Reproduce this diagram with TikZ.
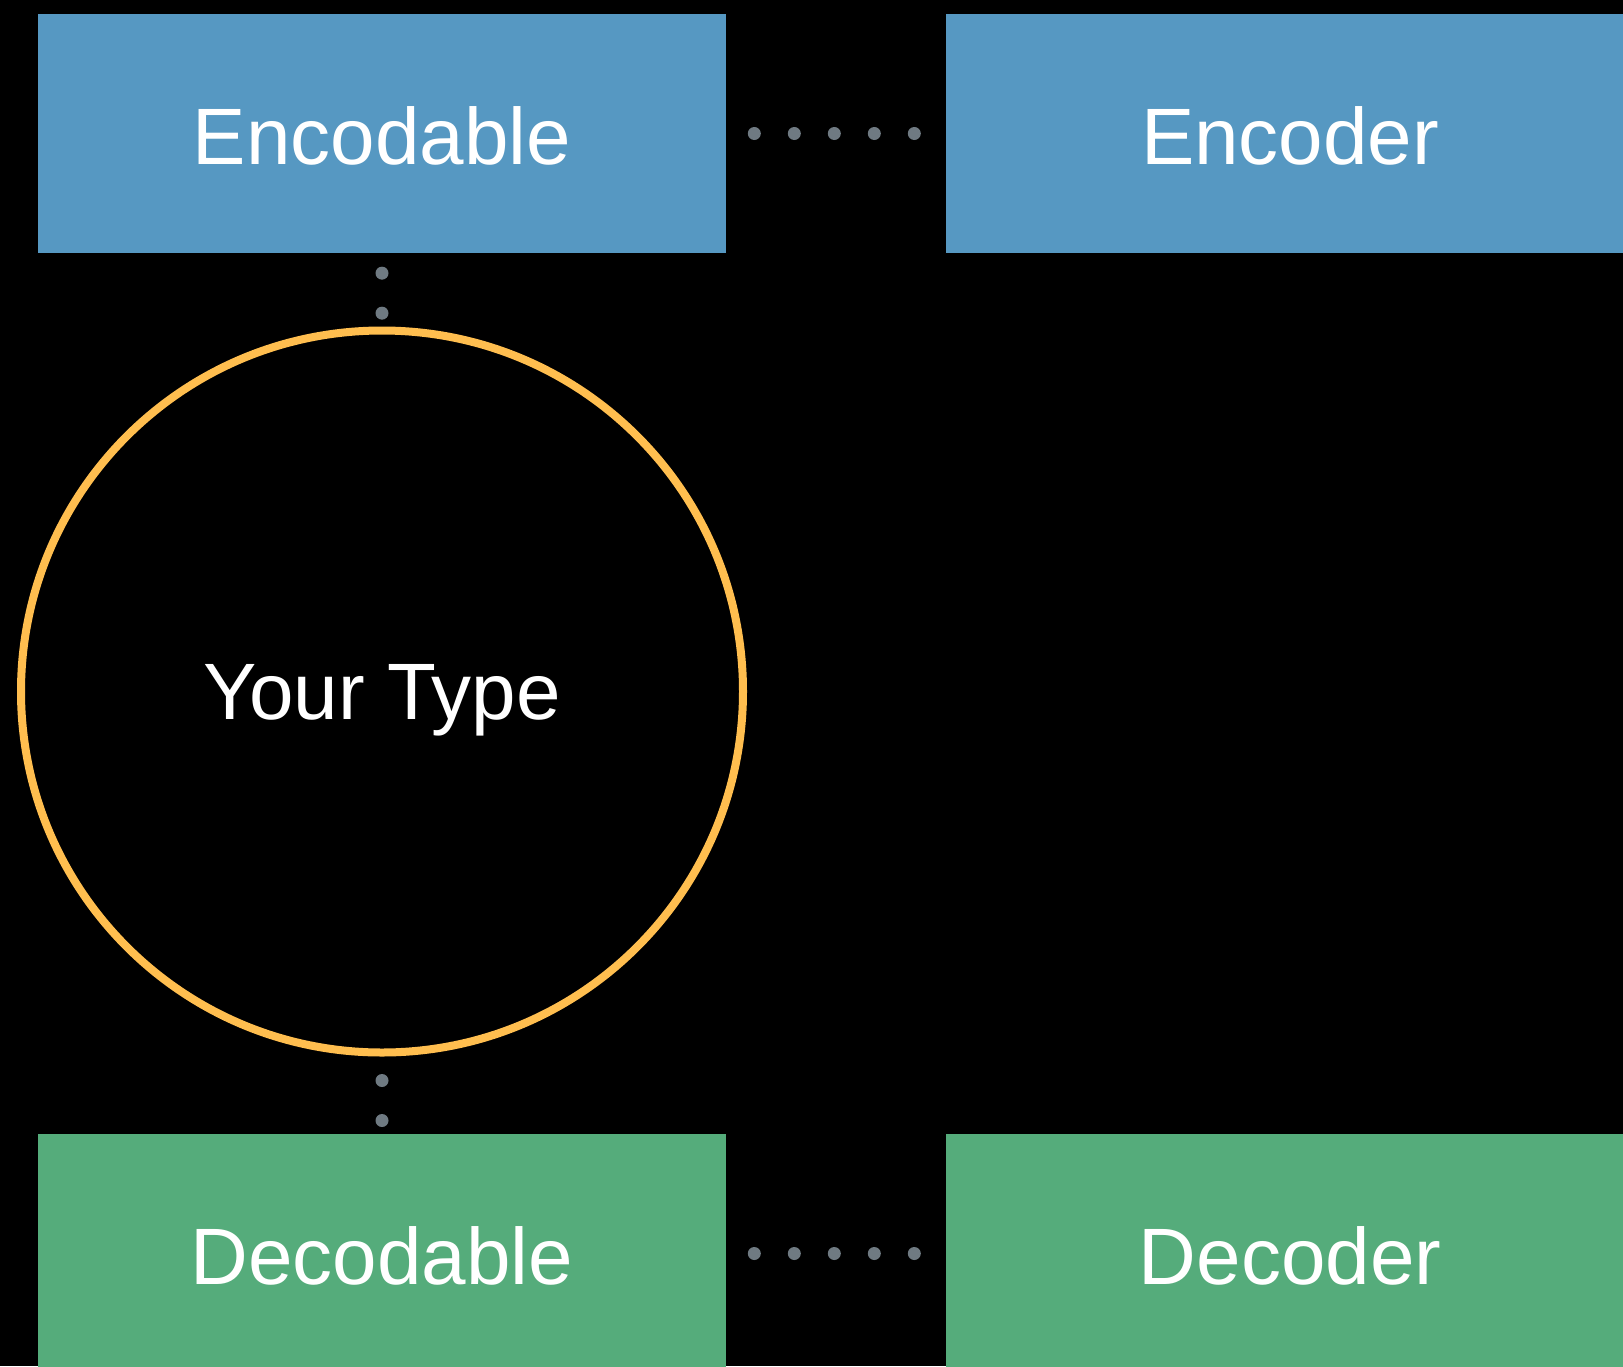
\documentclass[tikz,border=0pt]{standalone}
\usepackage{fontspec}
\setmainfont{Liberation Sans}
\definecolor{protoblue}{HTML}{5698C2}
\definecolor{protogreen}{HTML}{55AC7B}
\definecolor{typeorange}{HTML}{FFBE4F}
\definecolor{dotgray}{HTML}{6F7A82}
\tikzset{
  label font/.style={text=white, font=\fontsize{80}{92}\selectfont},
  protobox/.style={rectangle, inner sep=0pt, outer sep=0pt,
    minimum width=688pt, minimum height=239.5pt,
    label font, text height=61pt, text depth=0pt},
  encbox/.style={protobox, fill=protoblue},
  decbox/.style={protobox, fill=protogreen},
  typecircle/.style={circle, draw=typeorange, line width=8pt, inner sep=0pt,
    minimum size=722pt, label font, text height=55pt, text depth=0pt},
  dotlink/.style={draw=dotgray, line width=13pt, line cap=round,
    dash pattern=on 0pt off 40pt, dash phase=#1},
}
\begin{document}
\begin{tikzpicture}[x=1pt, y=-1pt]
  \useasboundingbox (0,0) rectangle (1623,1366);
  \fill[black] (0,0) rectangle (1623,1366);
  \clip (0,0) rectangle (1623,1366);

  % protocols and their coders
  \node[encbox] (encodable) at (382,133.5) {Encodable};
  \node[encbox] (encoder)   at (1290,133.5) {Encoder};
  \node[decbox] (decodable) at (382,1253.5) {Decodable};
  \node[decbox] (decoder)   at (1290,1253.5) {Decoder};

  % the conforming type
  \node[typecircle] (yourtype) at (382,691.5) {Your Type};

  % dotted relations
  \path[dotlink=11.7pt] (encodable.east) -- (encoder.west);
  \path[dotlink=11.7pt] (decodable.east) -- (decoder.west);
  \path[dotlink=20.1pt] (encodable.south) -- (yourtype.north);
  \path[dotlink=16pt] (yourtype.south) -- (decodable.north);
\end{tikzpicture}
\end{document}
